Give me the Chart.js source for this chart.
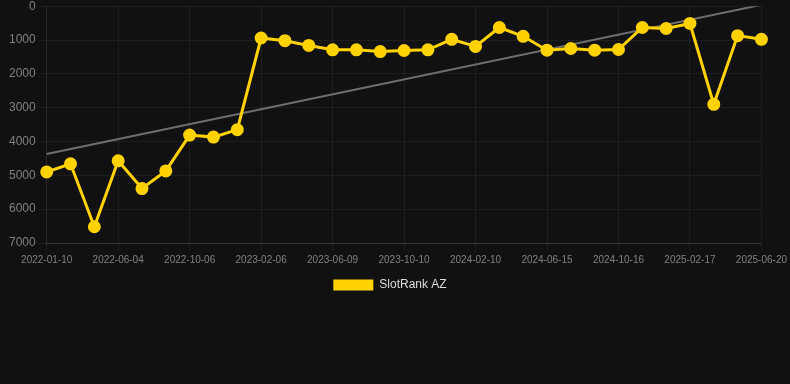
<!DOCTYPE html>
<html>
<head>
<meta charset="utf-8">
<script src="https://cdn.jsdelivr.net/npm/chart.js@4/dist/chart.umd.min.js"></script>
<style>
  html, body { margin: 0; padding: 0; background: #111111; overflow: hidden; }
  #wrap { width: 790px; height: 305px; margin-top: -4px; position: relative; }
</style>
</head>
<body>
<div id="wrap"><canvas id="c"></canvas></div>
<script>
const labels = [
  "2022-01-10","2022-02-27","2022-04-16","2022-06-04","2022-07-15","2022-08-26",
  "2022-10-06","2022-11-16","2022-12-27","2023-02-06","2023-03-18","2023-04-29",
  "2023-06-09","2023-07-20","2023-08-30","2023-10-10","2023-11-20","2023-12-31",
  "2024-02-10","2024-03-22","2024-05-04","2024-06-15","2024-07-26","2024-09-05",
  "2024-10-16","2024-11-26","2025-01-07","2025-02-17","2025-03-30","2025-05-10",
  "2025-06-20"
];
const rankValues = [
  4900, 4660, 6520, 4570, 5390, 4870,
  3810, 3870, 3650, 940, 1020, 1160,
  1290, 1290, 1340, 1310, 1290, 980,
  1190, 630, 890, 1300, 1250, 1300,
  1280, 630, 660, 510, 2900, 870,
  980
];
const trendStart = 4370;
const trendEnd = -40;
const yTicks = [0, 1000, 2000, 3000, 4000, 5000, 6000, 7000];
const seriesName = "SlotRank AZ";

const trendData = labels.map((_, i) => i === 0 ? trendStart : (i === labels.length - 1 ? trendEnd : null));

new Chart(document.getElementById('c'), {
  type: 'line',
  data: {
    labels: labels,
    datasets: [
      {
        label: seriesName,
        data: rankValues,
        borderColor: '#FFD200',
        backgroundColor: '#FFD200',
        borderWidth: 3,
        pointRadius: 5,
        pointHoverRadius: 5,
        pointBackgroundColor: '#FFD200',
        pointBorderColor: '#FFD200',
        tension: 0,
        order: 1
      },
      {
        label: 'trend',
        data: trendData,
        borderColor: '#6e6e6e',
        borderWidth: 2,
        pointRadius: 0,
        spanGaps: true,
        fill: false,
        order: 2
      }
    ]
  },
  options: {
    responsive: true,
    maintainAspectRatio: false,
    animation: false,
    layout: { padding: { left: 6, right: 16 } },
    plugins: {
      legend: {
        position: 'bottom',
        labels: {
          color: '#dddddd',
          font: { family: 'Liberation Sans, Arial', size: 12 },
          boxWidth: 40,
          boxHeight: 11,
          generateLabels: (chart) => Chart.defaults.plugins.legend.labels.generateLabels(chart)
            .filter(it => it.text !== 'trend')
            .map(it => Object.assign(it, { lineWidth: 0 }))
        }
      },
      tooltip: { enabled: false }
    },
    scales: {
      x: {
        grid: { color: 'rgba(255,255,255,0.05)', tickColor: 'rgba(255,255,255,0.05)' },
        border: { color: 'rgba(255,255,255,0.12)' },
        ticks: {
          color: '#808080',
          font: { family: 'Liberation Sans, Arial', size: 10 },
          autoSkip: false,
          maxRotation: 0,
          callback: function(v, i) { return i % 3 === 0 ? labels[i] : null; }
        }
      },
      y: {
        reverse: true,
        min: 0,
        max: 7000,
        afterBuildTicks: (axis) => { axis.ticks = yTicks.map(v => ({ value: v })); },
        grid: { color: 'rgba(255,255,255,0.05)', tickColor: 'rgba(255,255,255,0.05)' },
        border: { color: 'rgba(255,255,255,0.05)' },
        ticks: {
          color: '#808080',
          font: { family: 'Liberation Sans, Arial', size: 12 },
          callback: (v) => String(v)
        }
      }
    }
  }
});
</script>
</body>
</html>
